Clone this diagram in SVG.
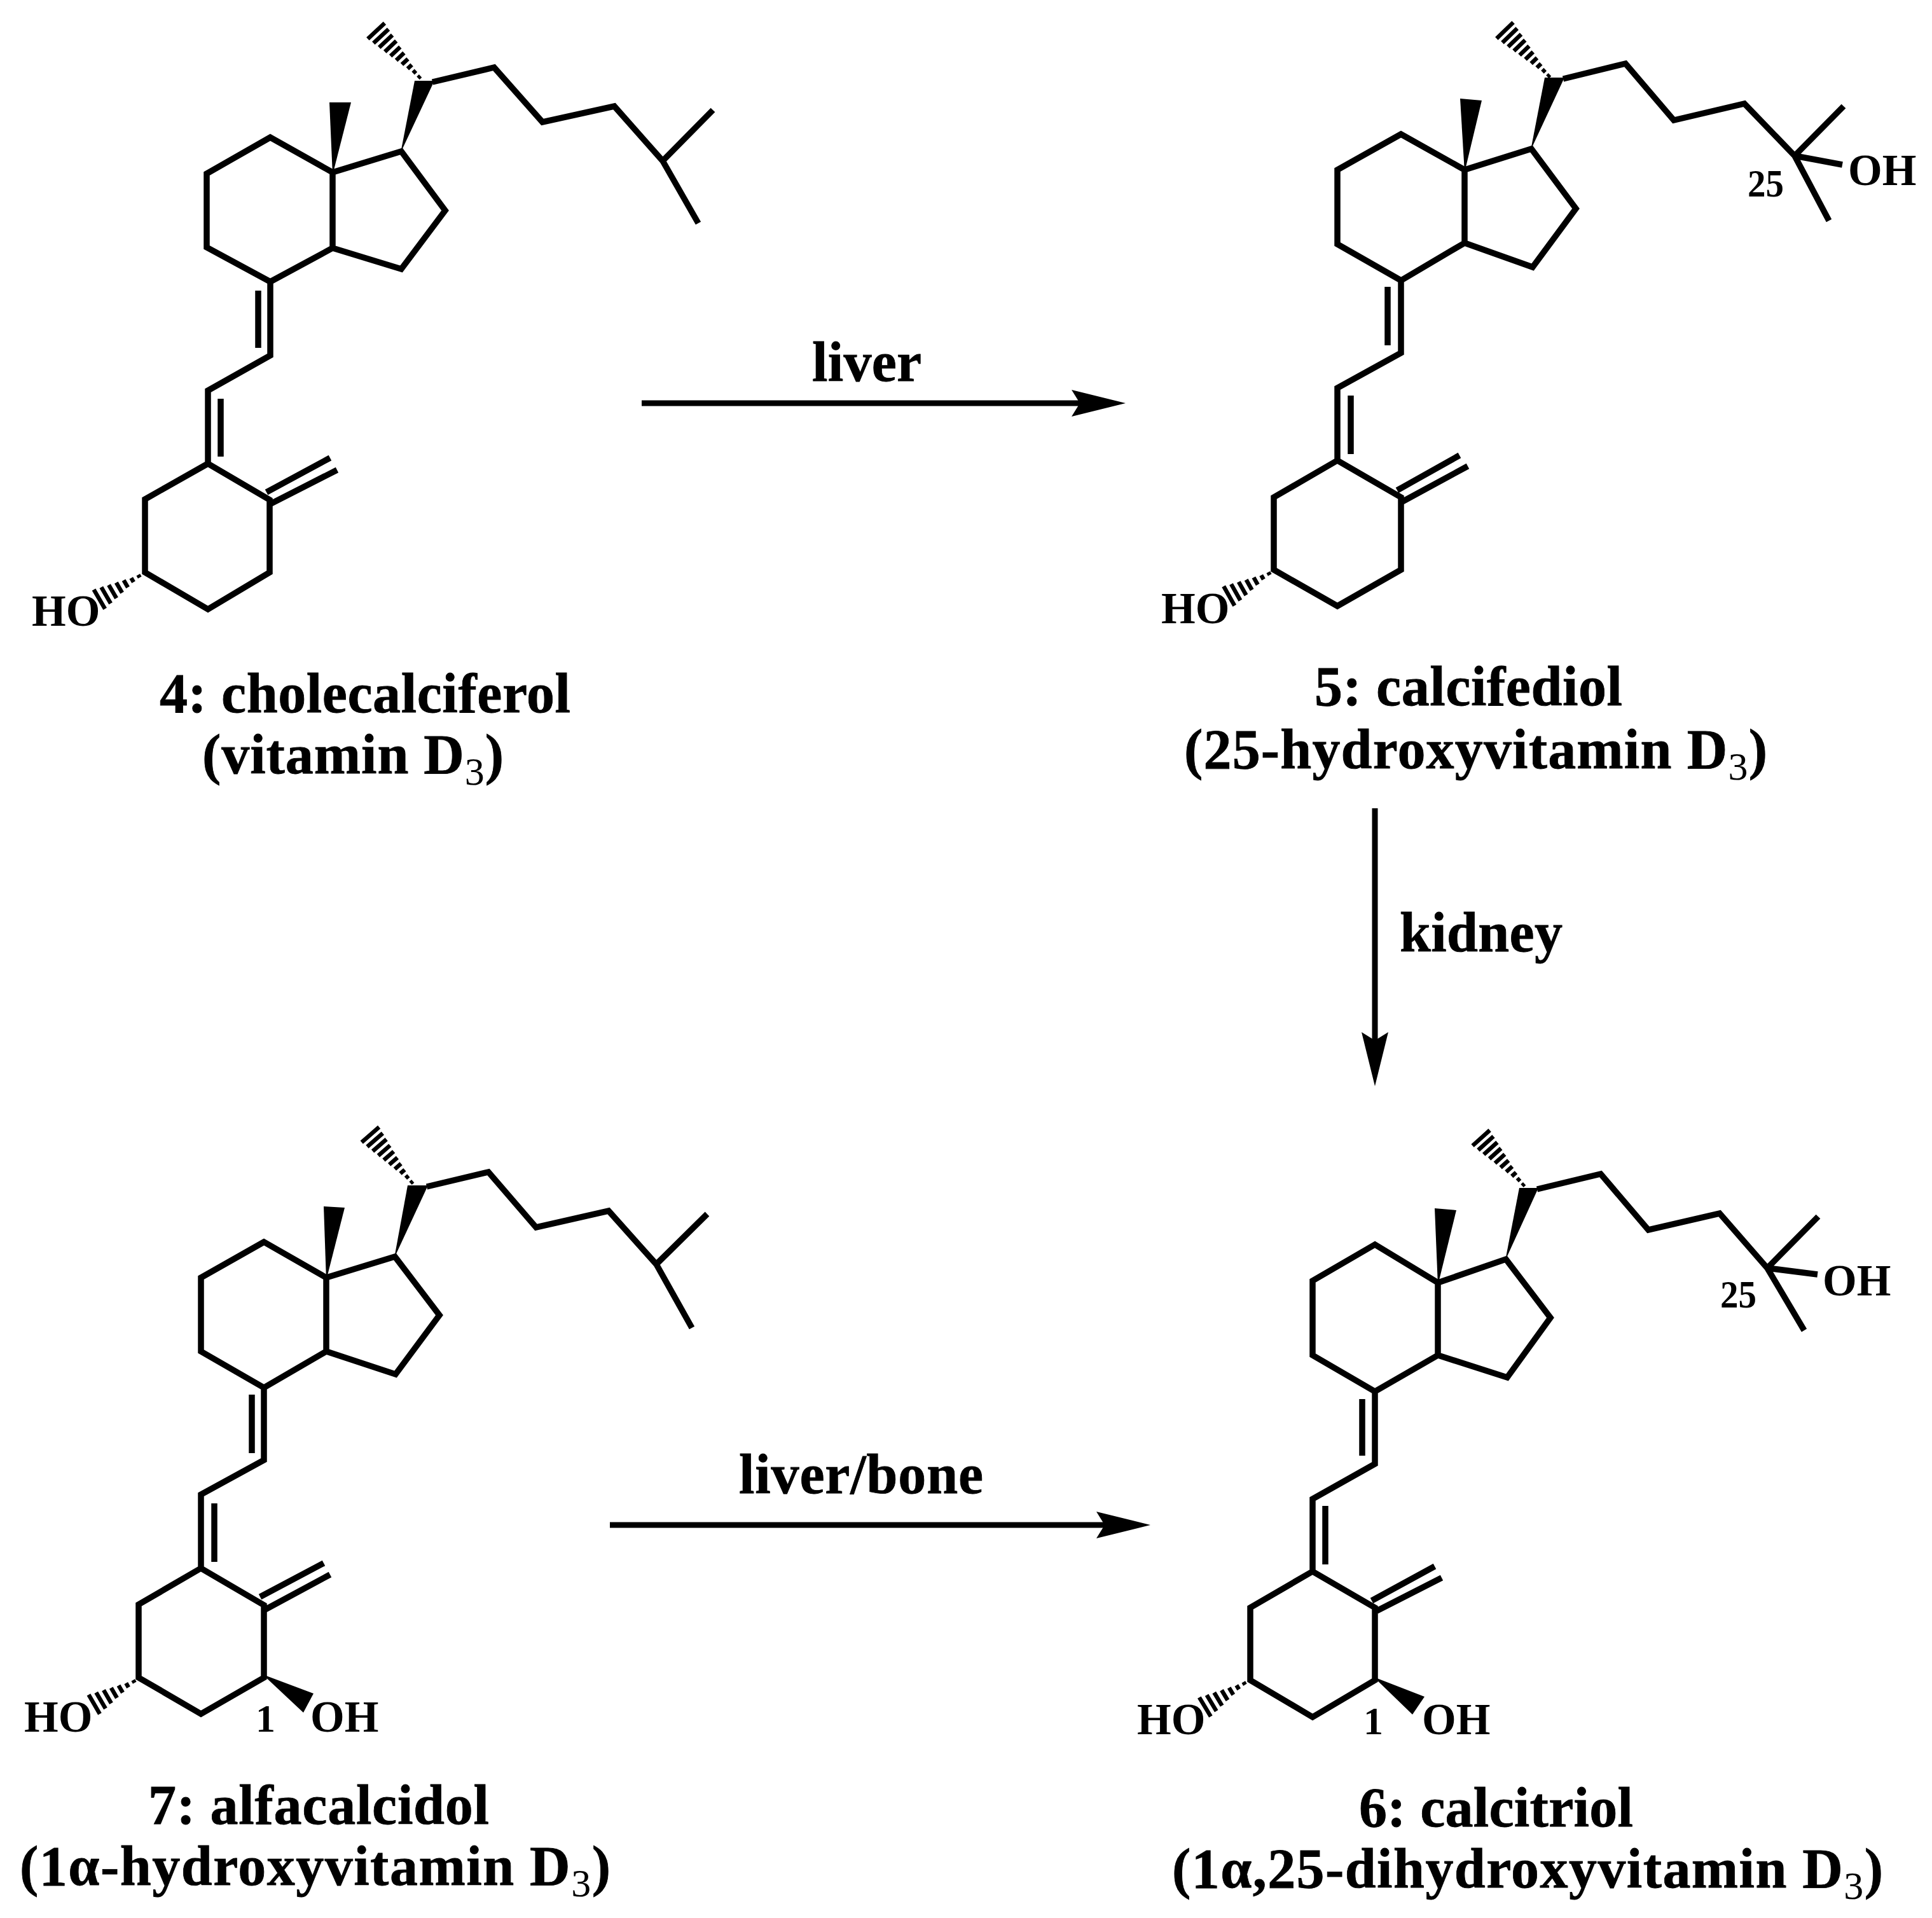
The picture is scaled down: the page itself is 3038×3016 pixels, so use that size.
<svg xmlns="http://www.w3.org/2000/svg" width="3038" height="3016" viewBox="0 0 3038 3016">
<style>
.b{fill:none;stroke:#000;stroke-width:9.5;stroke-linejoin:miter;stroke-linecap:butt}
.w{fill:#000;stroke:none}
.h{fill:none;stroke:#000;stroke-width:6.5}
text{font-family:"Liberation Serif","Times New Roman",serif;font-weight:700;fill:#000}
.t{font-size:88px;stroke:#000;stroke-width:.8}
.a{font-size:69px}
.n{font-size:62px}
.s{font-size:62px;font-weight:400;stroke-width:0}
.c{fill:none;stroke:#000;stroke-width:9}
</style>
<defs>
<marker id="ah" markerUnits="userSpaceOnUse" viewBox="0 0 85 42" refX="13" refY="21" markerWidth="85" markerHeight="42" orient="auto"><polygon points="0,0 85,21 0,42 13,21" fill="#000"/></marker>
<g id="hl" class="h"><path d="M4-2.5V2.5M15-3V3M26-4.6V4.6M37-6.5V6.5M48-8.5V8.5M59-10.4V10.4M70-12.3V12.3M81-14.3V14.3M92-16.2V16.2M103-18.2V18.2"/></g>
<g id="hs" class="h"><path d="M4-2.5V2.5M16-3.8V3.8M28-6.5V6.5M40-9.2V9.2M52-12V12M64-14.7V14.7M76-17.5V17.5"/></g>
</defs>
<rect width="3038" height="3016" fill="#fff"/>
<g id="connectors">
<line class="c" x1="1009" y1="634" x2="1698" y2="634" marker-end="url(#ah)"/>
<line class="c" x1="2162" y1="1271" x2="2162" y2="1636" marker-end="url(#ah)"/>
<line class="c" x1="959" y1="2398" x2="1737" y2="2398" marker-end="url(#ah)"/>
<text class="t" x="1277" y="599" textLength="172" lengthAdjust="spacing">liver</text>
<text class="t" x="2201" y="1496" textLength="256" lengthAdjust="spacing">kidney</text>
<text class="t" x="1162" y="2348" textLength="384" lengthAdjust="spacing">liver/bone</text>
</g>
<g id="mol-4">
<path class="b" d="M425 216L325 273V389L425 443L523 390V271ZM523 271L631 238L700 331L631 423L523 390M425 443V559L327 614V729L424 786V900L327 958L228 900V785L327 729M406 457V547M347 627V718M419 774L519 720M426 792L530 739M680 129L777 106L853 192L966 167L1042 253L1121 173M1042 253L1098 351"/>
<polygon class="w" points="523,275 518,161 552,161"/>
<polygon class="w" points="630,240 652,127 683,127"/>
<use href="#hl" transform="translate(662 124) rotate(226.9)"/>
<use href="#hs" transform="translate(222 904) rotate(149.8)"/>
<text class="a" x="50" y="984">HO</text>
<text class="t" x="251" y="1120" textLength="646" lengthAdjust="spacing">4: cholecalciferol</text>
<text class="t" x="318" y="1216" textLength="474" lengthAdjust="spacing">(vitamin D<tspan class="s" dy="18">3</tspan><tspan dy="-18">)</tspan></text>
</g>
<g id="mol-5">
<path class="b" d="M2203 211L2103 267V384L2203 441L2303 382V267ZM2303 267L2408 234L2478 328L2410 420L2303 382M2203 441V555L2103 610V724L2203 782V896L2103 953L2003 896V782L2103 724M2182 451V543M2124 622V714M2197 771L2295 716M2203 790L2308 733M2458 124L2556 100L2632 189L2743 163L2822 245L2899 167M2822 245L2876 347M2822 245L2897 259"/>
<polygon class="w" points="2303,271 2296,155 2330,158"/>
<polygon class="w" points="2407,236 2429,122 2460,122"/>
<use href="#hl" transform="translate(2438 122) rotate(226)"/>
<use href="#hs" transform="translate(1999 900) rotate(150.7)"/>
<text class="a" x="1826" y="980">HO</text>
<text class="a" x="2906" y="291">OH</text>
<text class="n" x="2748" y="309" textLength="57" lengthAdjust="spacingAndGlyphs">25</text>
<text class="t" x="2067" y="1109" textLength="484" lengthAdjust="spacing">5: calcifediol</text>
<text class="t" x="1862" y="1208" textLength="917" lengthAdjust="spacing">(25-hydroxyvitamin D<tspan class="s" dy="18">3</tspan><tspan dy="-18">)</tspan></text>
</g>
<g id="mol-7">
<path class="b" d="M415 1953L316 2009V2125L415 2182L513 2125V2009ZM513 2009L621 1976L691 2068L622 2161L513 2125M415 2182V2296L316 2350V2466L415 2524V2638L316 2695L218 2638V2523L316 2466M396 2193V2285M337 2364V2456M409 2511L509 2458M417 2531L519 2476M671 1866L768 1843L843 1930L957 1904L1032 1988L1112 1909M1032 1988L1088 2088"/>
<polygon class="w" points="513,2013 509,1897 542,1899"/>
<polygon class="w" points="620,1978 641,1864 673,1864"/>
<polygon class="w" points="413,2633 493,2663 477,2693"/>
<use href="#hl" transform="translate(650 1862) rotate(229)"/>
<use href="#hs" transform="translate(214 2642) rotate(150)"/>
<text class="a" x="38" y="2723">HO</text>
<text class="a" x="488" y="2723">OH</text>
<text class="n" x="402" y="2723">1</text>
<text class="t" x="233" y="2868" textLength="536" lengthAdjust="spacing">7: alfacalcidol</text>
<text class="t" x="31" y="2964" textLength="929" lengthAdjust="spacing">(1α-hydroxyvitamin D<tspan class="s" dy="18">3</tspan><tspan dy="-18">)</tspan></text>
</g>
<g id="mol-6">
<path class="b" d="M2162 1957L2064 2014V2131L2162 2188L2261 2131V2017ZM2261 2017L2368 1980L2438 2072L2370 2166L2261 2131M2162 2188V2302L2064 2357V2471L2162 2528V2642L2064 2700L1966 2642V2528L2064 2471M2142 2200V2289M2084 2368V2460M2157 2517L2256 2463M2165 2533L2267 2481M2417 1870L2517 1846L2592 1934L2704 1908L2779 1994L2859 1913M2779 1994L2837 2092M2779 1994L2858 2004"/>
<polygon class="w" points="2261,2021 2256,1900 2290,1903"/>
<polygon class="w" points="2367,1982 2389,1868 2419,1868"/>
<polygon class="w" points="2160,2637 2240,2668 2221,2696"/>
<use href="#hl" transform="translate(2398 1866) rotate(228)"/>
<use href="#hs" transform="translate(1960 2645) rotate(149)"/>
<text class="a" x="1788" y="2727">HO</text>
<text class="a" x="2236" y="2727">OH</text>
<text class="n" x="2144" y="2727">1</text>
<text class="a" x="2866" y="2037">OH</text>
<text class="n" x="2705" y="2056" textLength="57" lengthAdjust="spacingAndGlyphs">25</text>
<text class="t" x="2137" y="2872" textLength="431" lengthAdjust="spacing">6: calcitriol</text>
<text class="t" x="1843" y="2968" textLength="1118" lengthAdjust="spacing">(1α,25-dihydroxyvitamin D<tspan class="s" dy="18">3</tspan><tspan dy="-18">)</tspan></text>
</g>
</svg>
